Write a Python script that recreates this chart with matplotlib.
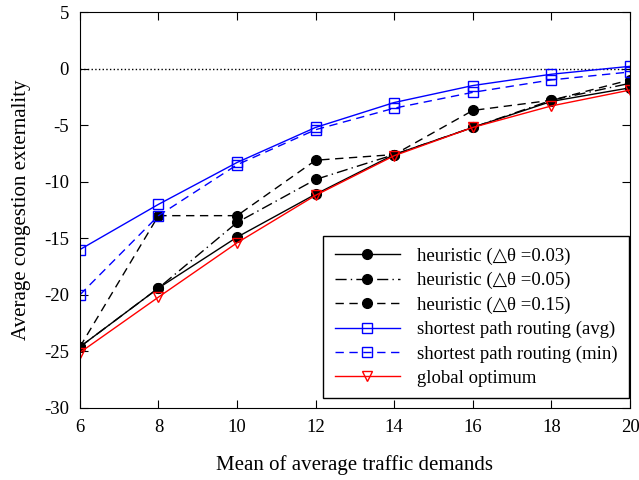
import matplotlib
matplotlib.use("Agg")
import matplotlib.pyplot as plt

plt.rcParams['font.family'] = ['Liberation Serif', 'DejaVu Serif']
plt.rcParams['axes.unicode_minus'] = False

demand = [6, 8, 10, 12, 14, 16, 18, 20]
heur_003 = [-24.6, -19.4, -14.9, -11.1, -7.6, -5.2, -2.9, -1.7]
heur_005 = [-24.6, -19.4, -13.6, -9.8, -7.6, -5.2, -2.8, -1.3]
heur_015 = [-24.6, -13.0, -13.0, -8.1, -7.6, -3.7, -2.8, -1.0]
sp_avg = [-16.0, -12.0, -8.3, -5.2, -3.0, -1.5, -0.5, 0.2]
sp_min = [-20.0, -13.0, -8.5, -5.4, -3.5, -2.1, -1.0, -0.3]
global_opt = [-25.1, -20.2, -15.4, -11.2, -7.7, -5.2, -3.3, -1.9]

labels = ['heuristic (\u25b3\u03b8 =0.03)', 'heuristic (\u25b3\u03b8 =0.05)',
          'heuristic (\u25b3\u03b8 =0.15)', 'shortest path routing (avg)',
          'shortest path routing (min)', 'global optimum']

fig = plt.figure(figsize=(6.39, 4.8), dpi=100)
ax = fig.add_axes([0.125, 0.15, 0.861, 0.825])

ax.axhline(0, color='black', linestyle=':', linewidth=1)

# heuristic curves (black, filled circles)
ax.plot(demand, heur_003, color='black', linestyle='-', linewidth=1,
        marker='o', markersize=7, label=labels[0])
ax.plot(demand, heur_005, color='black', linestyle=(0, (8, 3, 1, 3)), linewidth=1,
        marker='o', markersize=7, label=labels[1])
ax.plot(demand, heur_015, color='black', linestyle=(0, (6, 4)), linewidth=1,
        marker='o', markersize=7, label=labels[2])
# shortest path routing (blue, open squares)
ax.plot(demand, sp_avg, color='blue', linestyle='-', linewidth=1,
        marker='s', markersize=6.5, markerfacecolor='none', label=labels[3])
ax.plot(demand, sp_min, color='blue', linestyle=(0, (6, 4)), linewidth=1,
        marker='s', markersize=6.5, markerfacecolor='none', label=labels[4])
# global optimum (red, open triangles)
ax.plot(demand, global_opt, color='red', linestyle='-', linewidth=1,
        marker='v', markersize=7, markerfacecolor='none', label=labels[5])

ax.set_xlim(6, 20)
ax.set_ylim(-30, 5)
ax.set_xticks(range(6, 21, 2))
ax.set_yticks(range(-30, 6, 5))
ax.tick_params(direction='in', top=True, right=True, labelsize=13.5, length=6, pad=8)
ax.set_xlabel('Mean of average traffic demands', fontsize=15, labelpad=14)
ax.set_ylabel('Average congestion externality', fontsize=15, labelpad=9)

leg = ax.legend(loc='lower right', bbox_to_anchor=(0.998, 0.025), fontsize=13.5,
                fancybox=False, edgecolor='black', framealpha=1,
                handlelength=3.5, handletextpad=0.9, labelspacing=0.38,
                borderpad=0.6, borderaxespad=0)
leg.get_frame().set_linewidth(1)

fig.savefig('out.png', dpi=100)
